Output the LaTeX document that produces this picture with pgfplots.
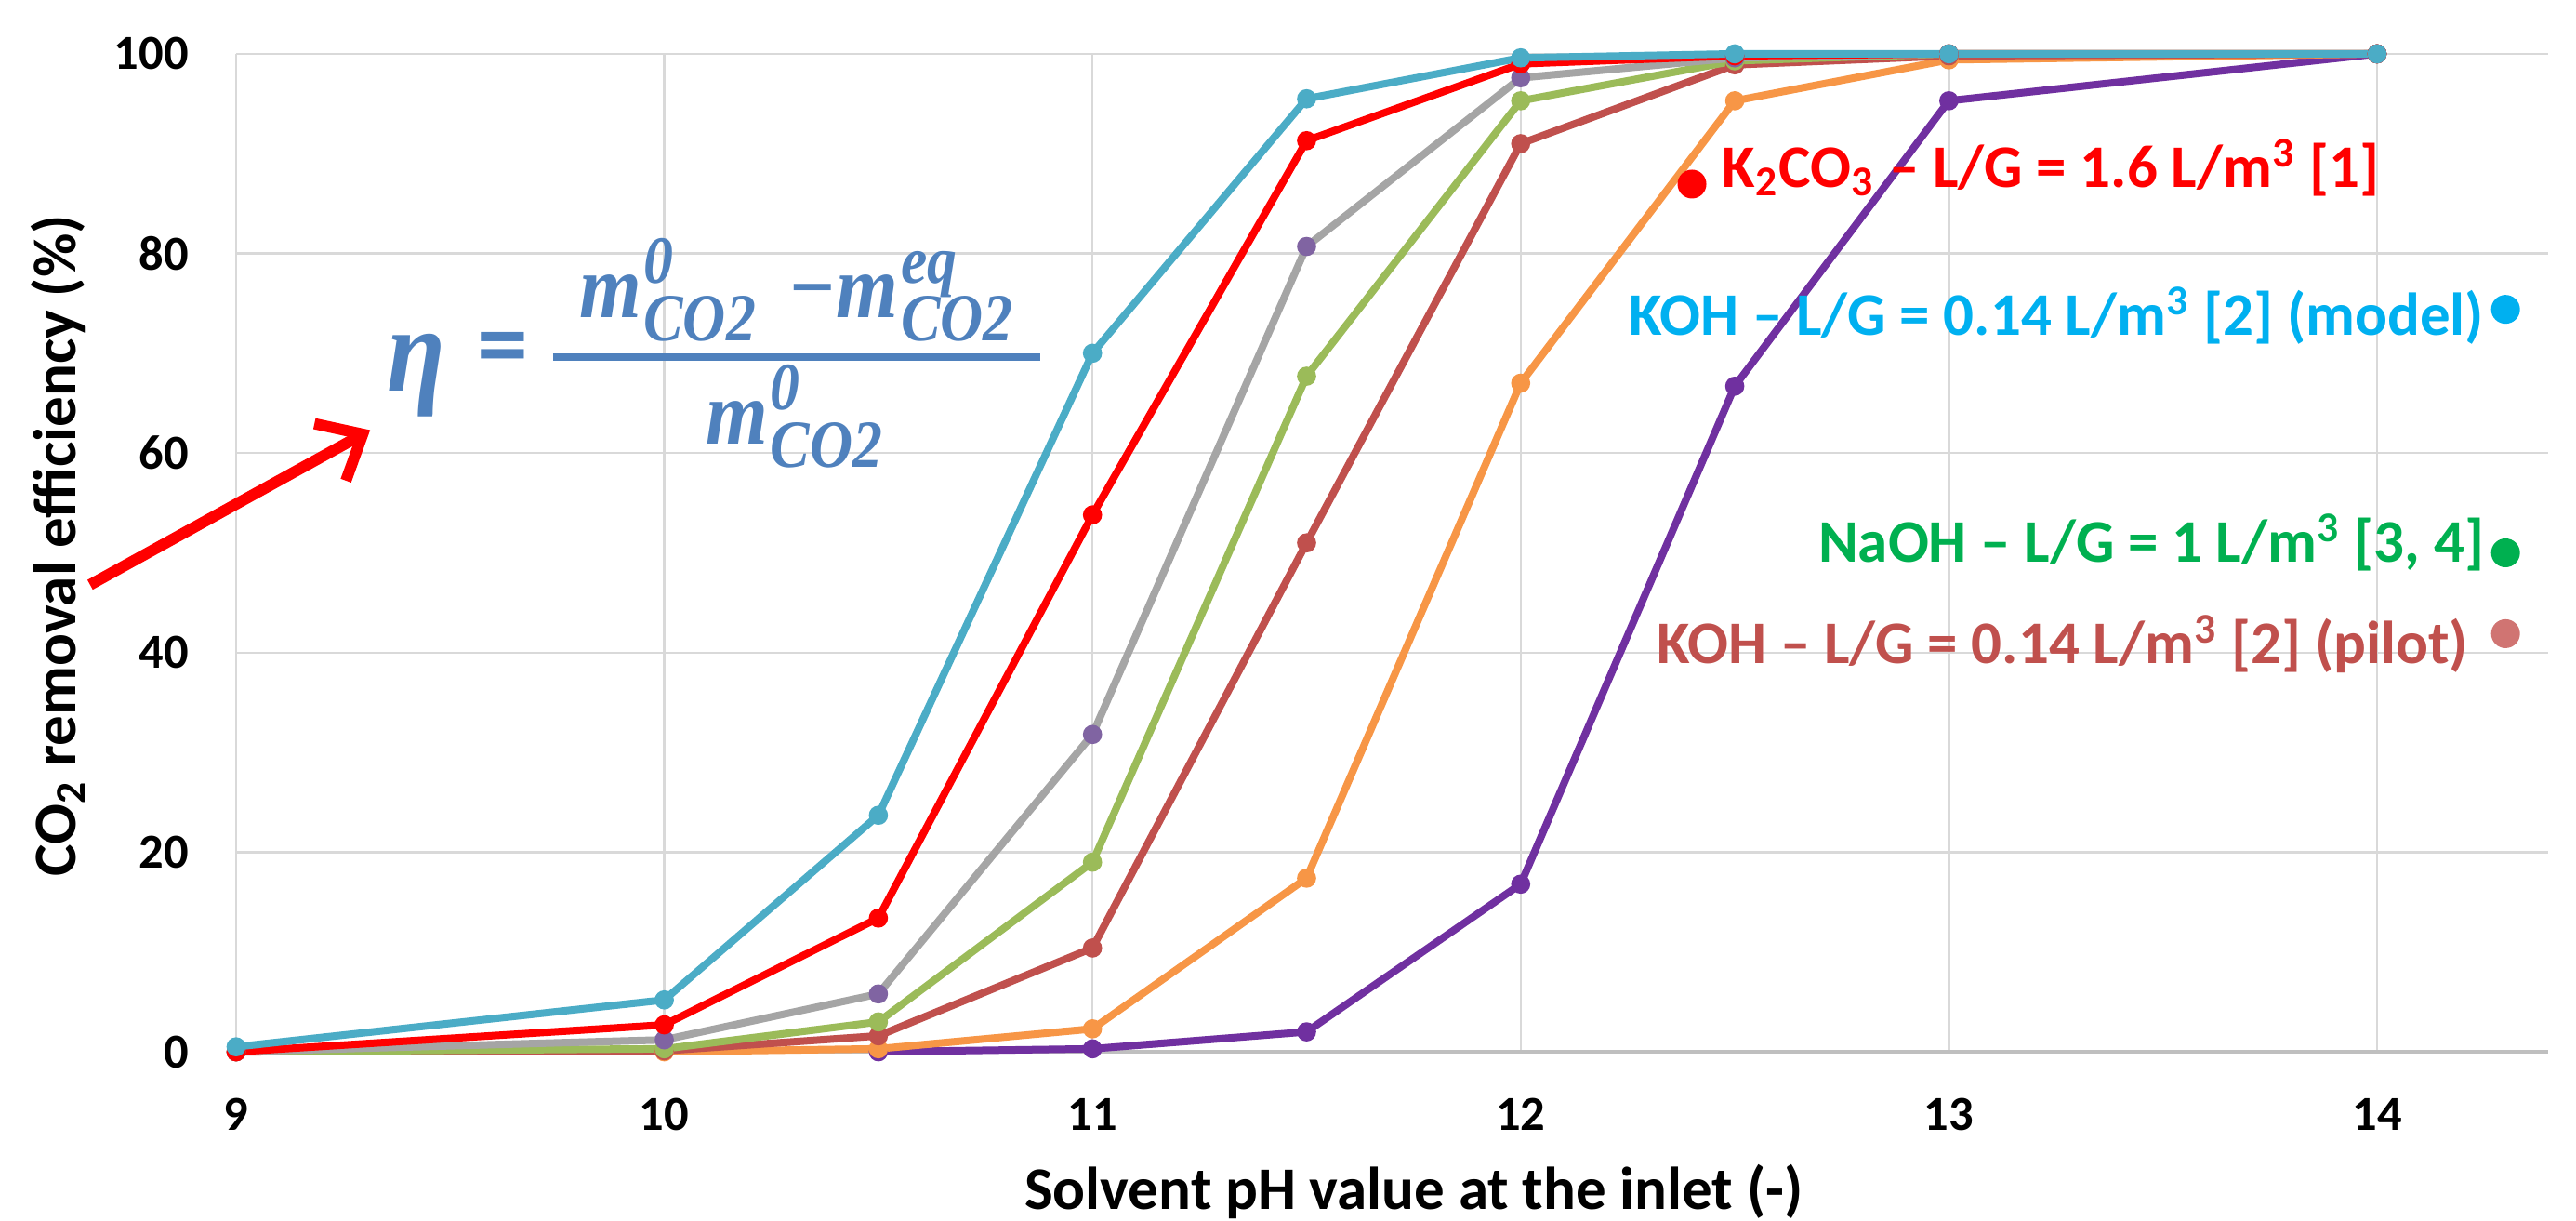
\documentclass[border=0pt]{standalone}
\usepackage{fontspec}
\setmainfont{Carlito}
\newfontfamily\formfam[FakeStretch=0.88]{Liberation Serif}
\usepackage{pgfplots}
\pgfplotsset{compat=1.18}
\usetikzlibrary{arrows.meta}

\definecolor{cteal}{HTML}{4BACC6}
\definecolor{cred}{HTML}{FF0000}
\definecolor{cgray}{HTML}{A5A5A5}
\definecolor{cgreen}{HTML}{9BBB59}
\definecolor{cbrown}{HTML}{C0504D}
\definecolor{corange}{HTML}{F79646}
\definecolor{cpurple}{HTML}{7030A0}
\definecolor{mpurple}{HTML}{8064A2}
\definecolor{tblue}{HTML}{00B0F0}
\definecolor{tgreen}{HTML}{00B050}
\definecolor{tpink}{HTML}{D07472}
\definecolor{formblue}{HTML}{4F81BD}
\definecolor{gridgray}{HTML}{D9D9D9}
\definecolor{axisgray}{HTML}{BFBFBF}

\newcommand{\annfont}{\bfseries\fontsize{13}{15}\selectfont}
\newcommand{\formfont}{\formfam\bfseries\itshape\fontsize{19.5}{23}\selectfont}
\newcommand{\scr}{\fontsize{14.5}{16}\selectfont}
% m with stacked super- and subscript, set in text mode
\newcommand{\mterm}[2]{m\kern0.5pt\makebox[0pt][l]{\scr\raisebox{7.4pt}{#1}}{\scr\raisebox{-5.0pt}{#2}}}

\begin{document}
\begin{tikzpicture}
\begin{axis}[
    name=ax,
    scale only axis,
    width=497.4pt, height=214.6pt,
    xmin=9, xmax=14.4, ymin=0, ymax=100,
    xtick={9,10,11,12,13,14}, ytick={0,20,40,60,80,100},
    grid=major,
    major grid style={color=gridgray, line width=0.5pt},
    axis x line*=bottom, axis y line*=left,
    x axis line style={color=axisgray, line width=0.9pt},
    y axis line style={draw=none},
    major tick length=0pt,
    tick label style={font=\bfseries\fontsize{10.5}{12}\selectfont},
    /pgf/number format/assume math mode=true,
    xticklabel style={yshift=-6.5pt},
    yticklabel style={xshift=-6.7pt},
    clip=false,
]
\addplot[cpurple, line width=1.6pt, mark=*, mark size=1.25pt, mark options={fill=cpurple}] coordinates {
    (10.5,0) (11,0.3) (11.5,2.0) (12,16.8) (12.5,66.7) (13,95.3) (14,100)
};
\addplot[corange, line width=1.6pt, mark=*, mark size=1.25pt, mark options={fill=corange}] coordinates {
    (10,0) (10.5,0.3) (11,2.3) (11.5,17.4) (12,67.0) (12.5,95.3) (13,99.4) (14,100)
};
\addplot[cbrown, line width=1.6pt, mark=*, mark size=1.25pt, mark options={fill=cbrown}] coordinates {
    (9,0) (10,0.1) (10.5,1.6) (11,10.4) (11.5,51.0) (12,91.0) (12.5,98.9) (13,99.8) (14,100)
};
\addplot[cgreen, line width=1.6pt, mark=*, mark size=1.25pt, mark options={fill=cgreen}] coordinates {
    (9,0) (10,0.3) (10.5,3.0) (11,19.0) (11.5,67.7) (12,95.3) (12.5,99.3) (13,100) (14,100)
};
\addplot[cgray, line width=1.6pt, mark=*, mark size=1.25pt, mark options={fill=mpurple, draw=mpurple}] coordinates {
    (9,0) (10,1.2) (10.5,5.8) (11,31.8) (11.5,80.7) (12,97.6) (12.5,99.6) (13,100) (14,100)
};
\addplot[cred, line width=1.6pt, mark=*, mark size=1.25pt, mark options={fill=cred}] coordinates {
    (9,0) (10,2.7) (10.5,13.4) (11,53.8) (11.5,91.3) (12,99.0) (12.5,99.8) (13,100) (14,100)
};
\addplot[cteal, line width=1.6pt, mark=*, mark size=1.25pt, mark options={fill=cteal}] coordinates {
    (9,0.5) (10,5.2) (10.5,23.7) (11,70.0) (11.5,95.5) (12,99.6) (12.5,100) (13,100) (14,100)
};

% dots beside the labels
\addplot[only marks, mark=*, mark size=2.9pt, color=cred] coordinates {(12.40,86.95)};
\addplot[only marks, mark=*, mark size=2.9pt, color=tblue] coordinates {(14.30,74.4)};
\addplot[only marks, mark=*, mark size=2.9pt, color=tgreen] coordinates {(14.30,50.0)};
\addplot[only marks, mark=*, mark size=2.9pt, color=tpink] coordinates {(14.30,41.9)};
\end{axis}

% annotations in data units: x 92.111pt per pH unit, y 2.146pt per percent
\begin{scope}[shift={(ax.south west)}, xshift=-829.0pt, x=92.111pt, y=2.146pt]
\node[anchor=base west, inner sep=0pt, text=cred, font=\annfont] at (12.469,86.6) {K\textsubscript{2}CO\textsubscript{3} -- L/G = 1.6 L/m\textsuperscript{3} [1]};
\node[anchor=base east, inner sep=0pt, text=tblue, font=\annfont] at (14.252,71.8) {KOH -- L/G = 0.14 L/m\textsuperscript{3} [2] (model)};
\node[anchor=base east, inner sep=0pt, text=tgreen, font=\annfont] at (14.252,49.1) {NaOH -- L/G = 1 L/m\textsuperscript{3} [3, 4]};
\node[anchor=base east, inner sep=0pt, text=cbrown, font=\annfont] at (14.215,38.9) {KOH -- L/G = 0.14 L/m\textsuperscript{3} [2] (pilot)};

% formula, built from text nodes
\node[anchor=base, inner sep=0pt, text=formblue, font=\formfam\bfseries\itshape\fontsize{26}{30}\selectfont] at (9.421,66.2) {η};
\node[inner sep=0pt, text=formblue, font=\bfseries\fontsize{22}{26}\selectfont] at (9.623,69.8) {=};
\node[anchor=base, inner sep=0pt, text=formblue, font=\formfont] at (10.308,73.6) {\mterm{0}{CO2}\hspace{7pt}−\mterm{eq}{CO2}};
\node[anchor=base, inner sep=0pt, text=formblue, font=\formfont] at (10.304,60.9) {\mterm{0}{CO2}};
\draw[formblue, line width=1.6pt] (9.740,69.6) -- (10.878,69.6);

\draw[cred, line width=2.4pt, -{Straight Barb[length=8pt,width=14pt]}] (8.659,46.8) -- (9.313,62.3);

\node[anchor=base, inner sep=0pt, font=\annfont] at (11.75,-15.75) {Solvent pH value at the inlet (-)};
\node[rotate=90, inner sep=0pt, font=\annfont] at (8.585,50.7) {CO\textsubscript{2} removal efficiency (\%)};

\pgfresetboundingbox
\path[use as bounding box] (8.4486,-16.87) rectangle (14.4646,105.4);
\end{scope}
\end{tikzpicture}
\end{document}
